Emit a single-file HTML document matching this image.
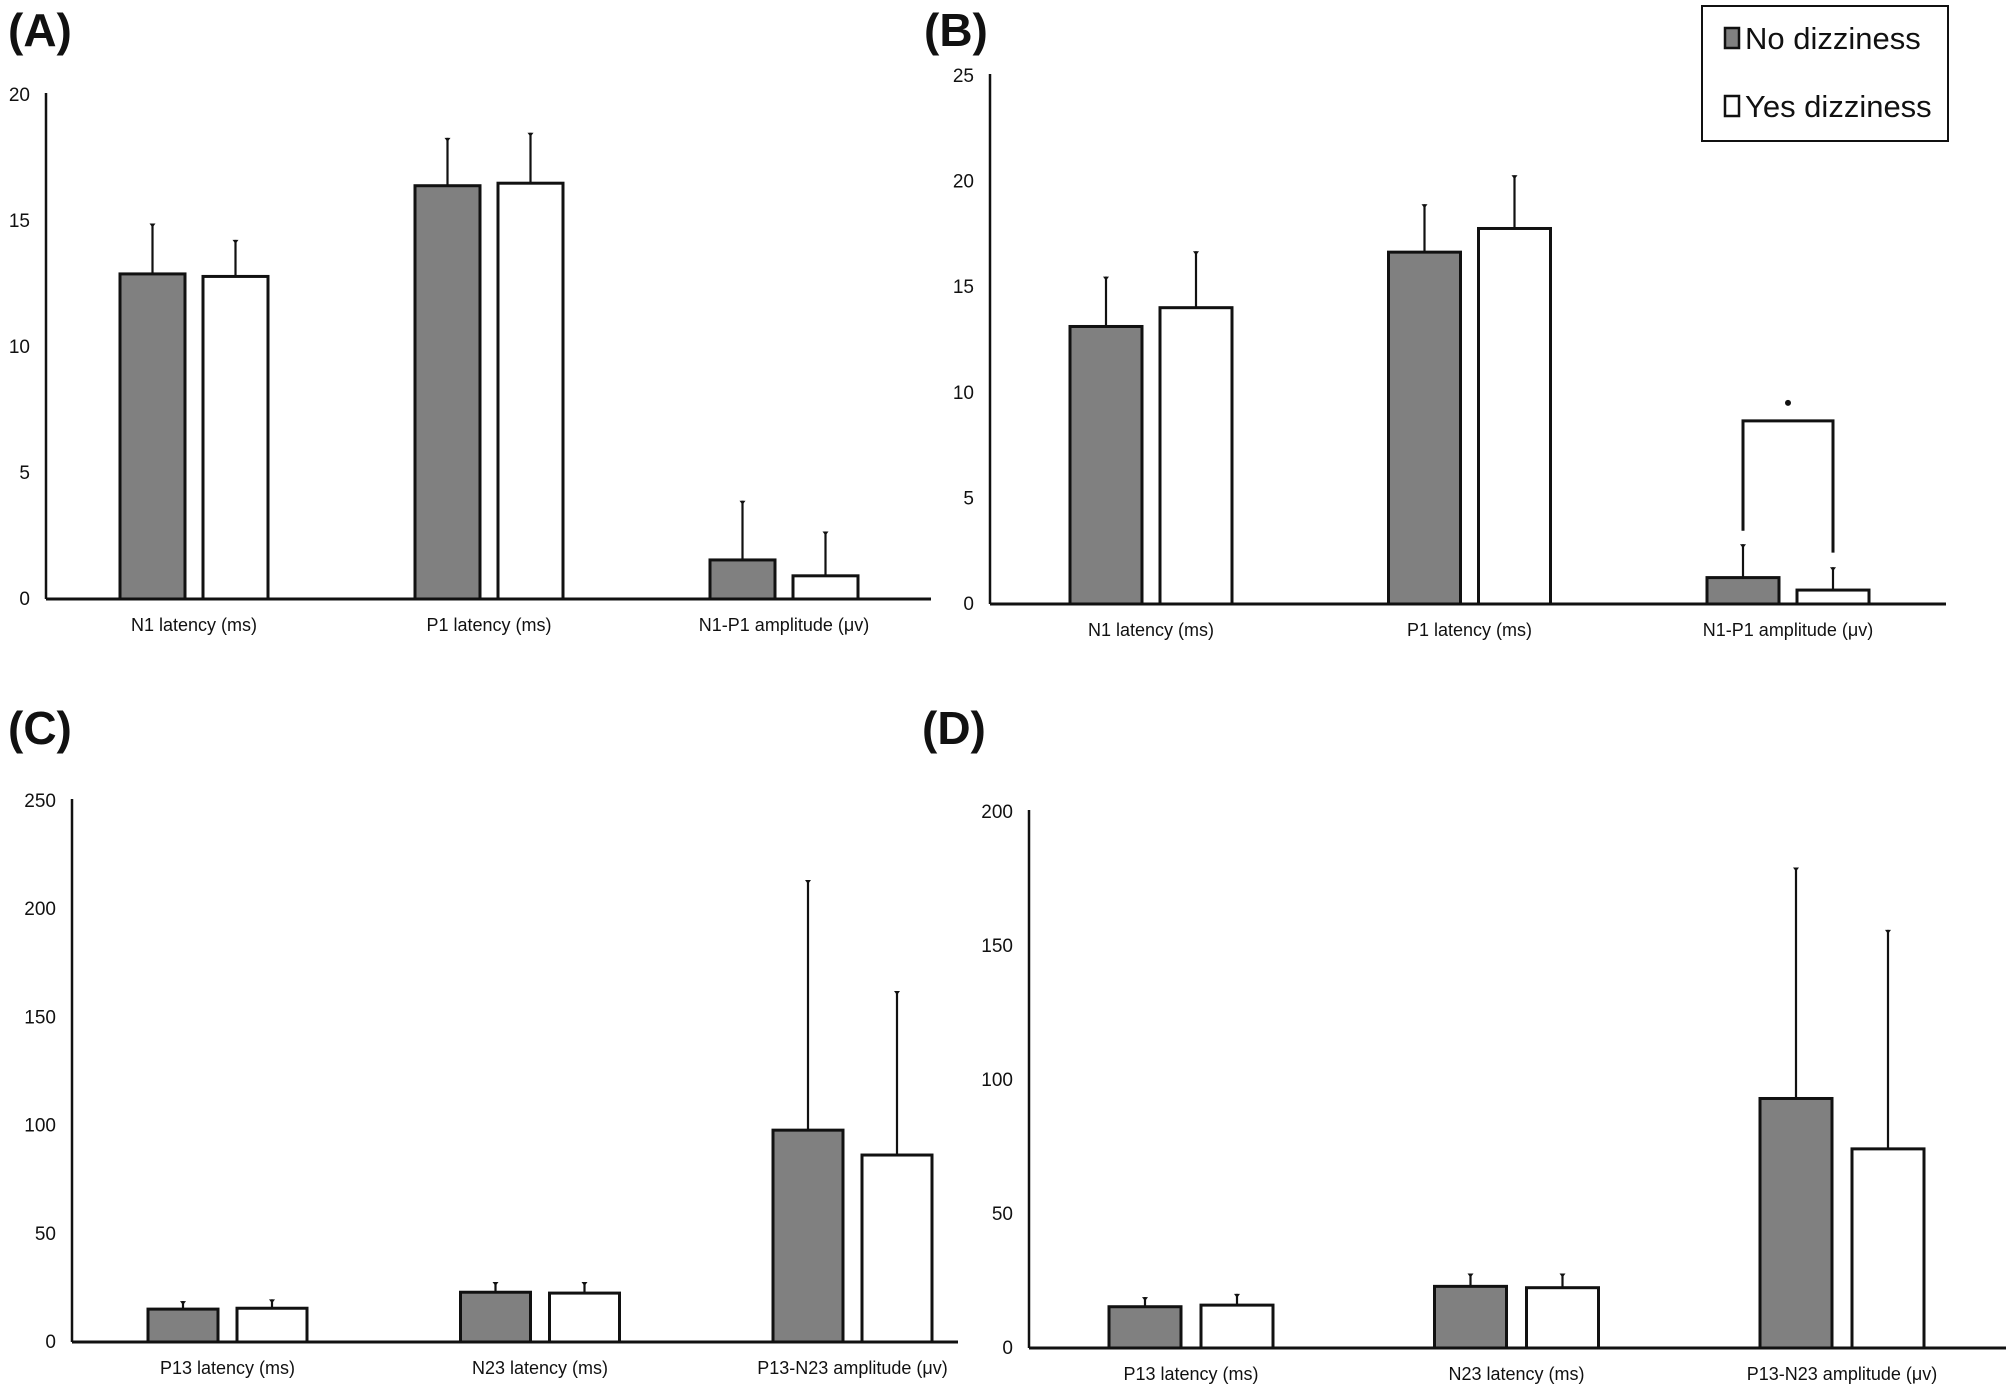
<!DOCTYPE html>
<html><head><meta charset="utf-8"><style>
html,body{margin:0;padding:0;background:#fff;overflow:hidden}
svg{display:block}
text{font-family:"Liberation Sans",sans-serif;fill:#111}
</style></head><body>
<svg id="chart" width="2006" height="1394" viewBox="0 0 2006 1394" xmlns="http://www.w3.org/2000/svg">
<text x="8" y="46" font-size="46" font-weight="bold">(A)</text>
<text x="924" y="46" font-size="46" font-weight="bold">(B)</text>
<text x="8" y="744" font-size="46" font-weight="bold">(C)</text>
<text x="922" y="744" font-size="46" font-weight="bold">(D)</text>
<g>
<rect x="1702" y="6" width="246" height="135" fill="#fff" stroke="#111" stroke-width="2"/>
<rect x="1725" y="28" width="14" height="20" fill="#808080" stroke="#111" stroke-width="2.5"/>
<text x="1745" y="49" font-size="31">No dizziness</text>
<rect x="1725" y="96" width="14" height="20" fill="#fff" stroke="#111" stroke-width="2.5"/>
<text x="1745" y="117" font-size="31">Yes dizziness</text>
</g>
</svg>
<script>
// Panel A data
const catsA = ["N1 latency (ms)", "P1 latency (ms)", "N1-P1 amplitude (\u03bcv)"];
const noA = [12.9, 16.4, 1.55];
const noErrA = [14.9, 18.3, 3.9];
const yesA = [12.8, 16.5, 0.92];
const yesErrA = [14.25, 18.5, 2.68];
const ticksA = [0, 5, 10, 15, 20];
// Panel B data
const catsB = ["N1 latency (ms)", "P1 latency (ms)", "N1-P1 amplitude (\u03bcv)"];
const noB = [13.14, 16.66, 1.25];
const noErrB = [15.5, 18.93, 2.83];
const yesB = [14.03, 17.78, 0.66];
const yesErrB = [16.7, 20.3, 1.74];
const ticksB = [0, 5, 10, 15, 20, 25];
// Panel C data
const catsC = ["P13 latency (ms)", "N23 latency (ms)", "P13-N23 amplitude (\u03bcv)"];
const noC = [15.2, 23, 97.9];
const noErrC = [18.9, 27.7, 213.5];
const yesC = [15.6, 22.6, 86.4];
const yesErrC = [19.7, 27.7, 162.2];
const ticksC = [0, 50, 100, 150, 200, 250];
// Panel D data
const catsD = ["P13 latency (ms)", "N23 latency (ms)", "P13-N23 amplitude (\u03bcv)"];
const noD = [15.4, 23, 93.1];
const noErrD = [19, 27.8, 179.3];
const yesD = [16, 22.5, 74.3];
const yesErrD = [20.2, 27.8, 156];
const ticksD = [0, 50, 100, 150, 200];

const NS = "http://www.w3.org/2000/svg";
const svg = document.getElementById('chart');
function mk(tag, attrs, parent){
  const e = document.createElementNS(NS, tag);
  for (const k in attrs) e.setAttribute(k, attrs[k]);
  (parent||svg).appendChild(e);
  return e;
}
function panel(id, L, cats, no, noErr, yes, yesErr, ticks){
  const g = mk('g', {});
  
  
  const max = ticks[ticks.length-1];
  const y = v => L.y0 - (v / max) * (L.y0 - L.yTop);
  const bx = (i, s) => L.x0 + L.firstOff + i * L.step + s * L.pairGap;
  ticks.forEach(t => {
    const tx = mk('text', {x: L.x0 - 16, y: y(t) + 6, 'font-size': 19, 'text-anchor': 'end'}, g);
    
    
    tx.textContent = t;
  });
  [[no, noErr, '#808080', 'no'], [yes, yesErr, '#ffffff', 'yes']].forEach((ser, s) => {
    ser[0].forEach((v, i) => {
      const x = bx(i, s);
      const cx = x + L.barW / 2;
      const el = mk('line', {x1: cx, x2: cx, y1: y(v), y2: y(ser[1][i]), stroke: '#111', 'stroke-width': 2.2}, g);
      
      
      const cap = mk('path', {d: `M${cx-3} ${y(ser[1][i])} L${cx+3} ${y(ser[1][i])} L${cx} ${y(ser[1][i])+4} Z`, fill: '#111'}, g);
      
      
      const r = mk('rect', {x: x, y: y(v), width: L.barW, height: L.y0 - y(v), fill: ser[2], stroke: '#111', 'stroke-width': 3}, g);
      
      
    });
  });
  cats.forEach((c, i) => {
    const cx = (bx(i,0) + bx(i,1) + L.barW) / 2;
    const t = mk('text', {x: cx, y: L.labY, 'font-size': 18, 'text-anchor': 'middle'}, g);
    
    
    t.textContent = c;
  });
  const ya = mk('line', {x1: L.x0, x2: L.x0, y1: L.yTop - 2, y2: L.y0, stroke: '#111', 'stroke-width': 2.5}, g);
  
  
  const xa = mk('line', {x1: L.x0, x2: L.xEnd, y1: L.y0, y2: L.y0, stroke: '#111', 'stroke-width': 3}, g);
  
  
  return {y, bx};
}
const pA = panel('a', {x0: 46, xEnd: 931, y0: 599, yTop: 95, firstOff: 74, step: 295, pairGap: 83, barW: 65, labY: 631}, catsA, noA, noErrA, yesA, yesErrA, ticksA);
const pB = panel('b', {x0: 990, xEnd: 1946, y0: 604, yTop: 76, firstOff: 80, step: 318.5, pairGap: 90, barW: 72, labY: 636}, catsB, noB, noErrB, yesB, yesErrB, ticksB);
const pC = panel('c', {x0: 72, xEnd: 958, y0: 1342, yTop: 801, firstOff: 76, step: 312.5, pairGap: 89, barW: 70, labY: 1374}, catsC, noC, noErrC, yesC, yesErrC, ticksC);
const pD = panel('d', {x0: 1029, xEnd: 2006, y0: 1348, yTop: 812, firstOff: 80, step: 325.5, pairGap: 92, barW: 72, labY: 1380}, catsD, noD, noErrD, yesD, yesErrD, ticksD);

// significance bracket in panel B (amplitude)
const bL = pB.bx(2,0) + 36, bR = pB.bx(2,1) + 36;
const bTop = pB.y(8.67);
const br = mk('path', {d: `M${bL} ${pB.y(3.47)} L${bL} ${bTop} L${bR} ${bTop} L${bR} ${pB.y(2.43)}`, fill: 'none', stroke: '#111', 'stroke-width': 3});


const star = mk('circle', {cx: (bL + bR) / 2, cy: bTop - 18, r: 3, fill: '#111'});


</script>
</body></html>
